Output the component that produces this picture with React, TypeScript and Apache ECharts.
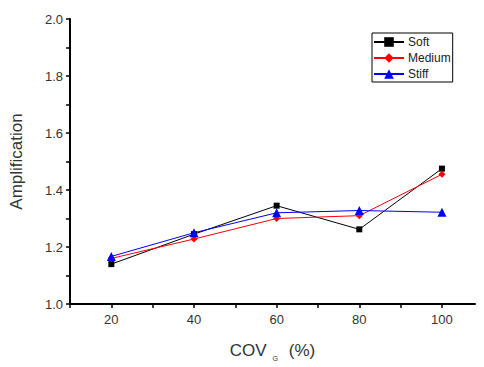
import React, { useEffect, useRef } from "react";
import * as echarts from "echarts";

const xValues = [20, 40, 60, 80, 100];
const soft = [1.14, 1.245, 1.345, 1.262, 1.475];
const medium = [1.16, 1.228, 1.3, 1.31, 1.455];
const stiff = [1.167, 1.25, 1.32, 1.328, 1.322];
const seriesNames = ["Soft", "Medium", "Stiff"];

export default function App() {
  const ref = useRef<HTMLDivElement>(null);
  useEffect(() => {
    if (!ref.current) return;
    const chart = echarts.init(ref.current, null, { renderer: "svg" });
    const font = "Liberation Sans, Arial, sans-serif";
    const mk = (vals: number[]) => xValues.map((x, i) => [x, vals[i]]);
    chart.setOption({
      animation: false,
      backgroundColor: "#fff",
      textStyle: { fontFamily: font },
      grid: { left: 68, right: 9, top: 19, bottom: 57 },
      legend: {
        orient: "vertical",
        left: 372,
        top: 33,
        itemWidth: 30,
        itemHeight: 12,
        itemGap: 4,
        padding: [3, 2, 2, 1],
        borderColor: "#000",
        borderWidth: 1,
        backgroundColor: "#fff",
        textStyle: { fontFamily: font, fontSize: 12, color: "#222", padding: [0, 0, 0, -1] },
        data: seriesNames,
      },
      xAxis: {
        type: "value",
        min: 10,
        max: 108,
        interval: 10,
        splitLine: { show: false },
        axisLine: { lineStyle: { color: "#000", width: 2 } },
        axisTick: { lineStyle: { color: "#000", width: 1.5 }, length: 4 },
        axisLabel: {
          color: "#333",
          fontSize: 13,
          fontFamily: font,
          margin: 9,
          showMaxLabel: false,
          formatter: (v: number) => (v % 20 === 0 ? String(v) : ""),
        },
        name: "COV{sub|G} (%)",
        nameLocation: "middle",
        nameGap: 35,
        nameTextStyle: {
          fontSize: 17,
          color: "#333",
          fontFamily: font,
          rich: {
            sub: { fontSize: 7, color: "#333", padding: [16, 6, 0, 6], fontFamily: font },
          },
        },
      },
      yAxis: {
        type: "value",
        min: 1,
        max: 2,
        interval: 0.1,
        splitLine: { show: false },
        axisLine: { show: true, lineStyle: { color: "#000", width: 2 } },
        axisTick: { show: true, lineStyle: { color: "#000", width: 1.5 }, length: 4 },
        axisLabel: {
          color: "#333",
          fontSize: 13,
          fontFamily: font,
          margin: 7,
          formatter: (v: number) => {
            const r = Math.round(v * 10);
            return r % 2 === 0 ? (r / 10).toFixed(1) : "";
          },
        },
        name: "Amplification",
        nameLocation: "middle",
        nameGap: 45,
        nameTextStyle: { fontSize: 17, color: "#333", fontFamily: font },
      },
      series: [
        {
          name: "Soft",
          type: "line",
          data: mk(soft),
          symbol: "rect",
          symbolSize: 6,
          color: "#000",
          lineStyle: { color: "#000", width: 1 },
          itemStyle: { color: "#000" },
        },
        {
          name: "Medium",
          type: "line",
          data: mk(medium),
          symbol: "diamond",
          symbolSize: 7,
          color: "#f00",
          lineStyle: { color: "#f00", width: 1 },
          itemStyle: { color: "#f00" },
        },
        {
          name: "Stiff",
          type: "line",
          data: mk(stiff),
          symbol: "triangle",
          symbolSize: 9,
          color: "#00f",
          lineStyle: { color: "#00f", width: 1 },
          itemStyle: { color: "#00f" },
        },
      ],
    });
    return () => chart.dispose();
  }, []);
  return <div ref={ref} style={{ width: 484, height: 367, position: "absolute", left: 0, top: 0 }} />;
}
